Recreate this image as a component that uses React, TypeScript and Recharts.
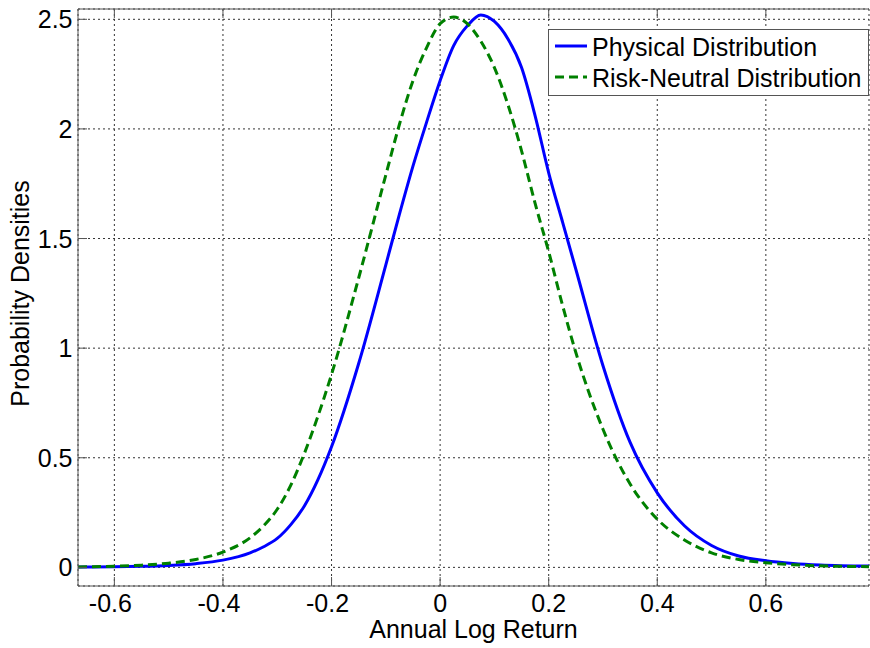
import { CartesianGrid, Legend, Line, LineChart, XAxis, YAxis } from "recharts";

const logReturns = [
  -0.667, -0.6, -0.55, -0.5, -0.45, -0.4, -0.35, -0.325, -0.3, -0.275, -0.25, -0.225, -0.2, -0.15,
  -0.1, -0.075, -0.05, -0.025, 0, 0.025, 0.05, 0.075, 0.1, 0.125, 0.15, 0.175, 0.2, 0.225, 0.25,
  0.3, 0.35, 0.4, 0.45, 0.5, 0.55, 0.6, 0.65, 0.7, 0.79,
];
const physicalDensity = [
  0.002, 0.003, 0.005, 0.009, 0.017, 0.033, 0.066, 0.094, 0.132, 0.195, 0.28, 0.4, 0.55, 0.93,
  1.38, 1.61, 1.83, 2.03, 2.22, 2.38, 2.47, 2.52, 2.49, 2.41, 2.28, 2.06, 1.8, 1.58, 1.36,
  0.92, 0.57, 0.34, 0.19, 0.1, 0.052, 0.03, 0.018, 0.011, 0.006,
];
const riskNeutralDensity = [
  0.002, 0.005, 0.01, 0.019, 0.036, 0.07, 0.135, 0.19, 0.265, 0.375, 0.52, 0.69, 0.88, 1.32,
  1.79, 2.02, 2.22, 2.37, 2.48, 2.51, 2.48, 2.4, 2.28, 2.11, 1.9, 1.66, 1.44, 1.2, 0.98,
  0.63, 0.38, 0.22, 0.125, 0.066, 0.036, 0.021, 0.012, 0.007, 0.003,
];
const xTicks = [-0.6, -0.4, -0.2, 0, 0.2, 0.4, 0.6];
const yTicks = [0, 0.5, 1, 1.5, 2, 2.5];

const data = logReturns.map((x, i) => ({
  x,
  physical: physicalDensity[i],
  riskNeutral: riskNeutralDensity[i],
}));

const FONT = '"Liberation Sans", Arial, Helvetica, sans-serif';
const AXIS = "#555555";
const TICK_LEN = 9;

// matlab-style ticks point into the plot, labels hang outside
function BottomTick({ x, y, payload }: any) {
  const v = payload.value;
  return (
    <g>
      <line x1={x} x2={x} y1={y} y2={y - TICK_LEN} stroke={AXIS} />
      <text x={v < 0 ? x - 4 : x} y={y + 26} textAnchor="middle" fontSize={25} fontFamily={FONT} fill="#000">
        {String(v)}
      </text>
    </g>
  );
}

function TopTick({ x, y }: any) {
  return <line x1={x} x2={x} y1={y} y2={y + TICK_LEN} stroke={AXIS} />;
}

function LeftTick({ x, y, payload }: any) {
  return (
    <g>
      <line x1={x} x2={x + TICK_LEN} y1={y} y2={y} stroke={AXIS} />
      <text x={x - 5.5} y={y + 9} textAnchor="end" fontSize={25} fontFamily={FONT} fill="#000">
        {String(payload.value)}
      </text>
    </g>
  );
}

function LegendBox({ payload }: any) {
  const items = payload || [];
  return (
    <svg width={322} height={68} style={{ display: "block" }}>
      <rect x={0.5} y={0.5} width={320} height={66} fill="#fff" stroke={AXIS} />
      {items.map((item: any, i: number) => {
        const cy = 17 + i * 31;
        return (
          <g key={item.value}>
            <line
              x1={7}
              x2={39}
              y1={cy}
              y2={cy}
              stroke={item.color}
              strokeWidth={3}
              strokeDasharray={item.payload?.strokeDasharray}
            />
            <text x={44} y={cy + 10} fontSize={25} fontFamily={FONT} fill="#000">
              {item.value}
            </text>
          </g>
        );
      })}
    </svg>
  );
}

export default function App() {
  return (
    <div style={{ position: "absolute", left: 0, top: 0, background: "#fff" }}>
      <LineChart width={870} height={648} data={data} margin={{ top: 0, right: 1, bottom: 0, left: 0 }}>
        <CartesianGrid stroke="#333" strokeDasharray="2 3" />
        <XAxis
          dataKey="x"
          type="number"
          domain={[-0.667, 0.79]}
          ticks={xTicks}
          allowDataOverflow
          height={62}
          tickSize={0}
          tickMargin={0}
          tickLine={false}
          axisLine={{ stroke: AXIS }}
          tick={<BottomTick />}
          label={{
            content: ({ viewBox }: any) => (
              <text
                x={viewBox.x + viewBox.width / 2}
                y={viewBox.y + 52}
                textAnchor="middle"
                fontSize={25}
                fontFamily={FONT}
                fill="#000"
              >
                Annual Log Return
              </text>
            ),
          }}
        />
        <XAxis
          xAxisId="top"
          orientation="top"
          dataKey="x"
          type="number"
          domain={[-0.667, 0.79]}
          ticks={xTicks}
          allowDataOverflow
          height={9}
          tickSize={0}
          tickMargin={0}
          tickLine={false}
          axisLine={{ stroke: AXIS }}
          tick={<TopTick />}
        />
        <YAxis
          type="number"
          domain={[-0.085, 2.547]}
          ticks={yTicks}
          allowDataOverflow
          width={78}
          tickSize={0}
          tickMargin={0}
          tickLine={false}
          axisLine={{ stroke: AXIS }}
          tick={<LeftTick />}
          label={{
            content: ({ viewBox }: any) => {
              const cx = 29;
              const cy = viewBox.y + viewBox.height / 2 - 4;
              return (
                <text
                  x={cx}
                  y={cy}
                  transform={`rotate(-90 ${cx} ${cy})`}
                  textAnchor="middle"
                  fontSize={25}
                  fontFamily={FONT}
                  fill="#000"
                >
                  Probability Densities
                </text>
              );
            },
          }}
        />
        <Legend
          layout="horizontal"
          verticalAlign="middle"
          align="center"
          wrapperStyle={{ left: 548, top: 29, width: 322, height: 68 }}
          content={<LegendBox />}
        />
        <Line
          name="Physical Distribution"
          dataKey="physical"
          type="monotone"
          stroke="#0000ff"
          strokeWidth={3}
          dot={false}
          activeDot={false}
          isAnimationActive={false}
        />
        <Line
          name="Risk-Neutral Distribution"
          dataKey="riskNeutral"
          type="monotone"
          stroke="#008000"
          strokeWidth={3}
          strokeDasharray="9 5"
          dot={false}
          activeDot={false}
          isAnimationActive={false}
        />
      </LineChart>
    </div>
  );
}
